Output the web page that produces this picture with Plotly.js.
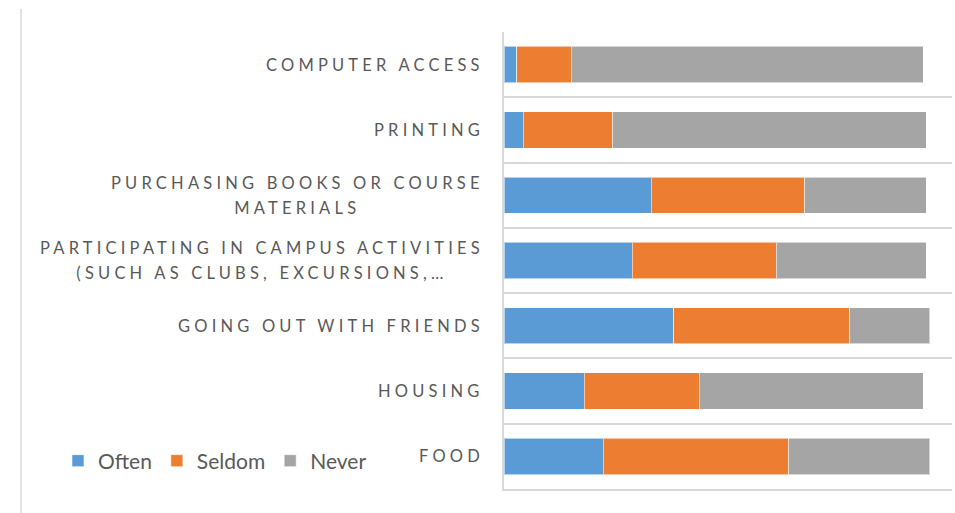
<!DOCTYPE html>
<html>
<head>
<meta charset="utf-8">
<script src="https://cdn.plot.ly/plotly-3.0.1.min.js"></script>
<style>
  html, body { margin: 0; padding: 0; background: #fff; }
  #chart { width: 955px; height: 513px; }
  .annotation-text { letter-spacing: 4.2px; }
</style>
</head>
<body>
<div id="chart"></div>
<script>
// Categories, top to bottom
const categories = [
  "Computer access",
  "Printing",
  "Purchasing books or course materials",
  "Participating in campus activities",
  "Going out with friends",
  "Housing",
  "Food"
];
// Displayed category labels (as in the chart, truncated with …)
const categoryLabels = [
  ["COMPUTER ACCESS"],
  ["PRINTING"],
  ["PURCHASING BOOKS OR COURSE", "MATERIALS"],
  ["PARTICIPATING IN CAMPUS ACTIVITIES", "(SUCH AS CLUBS, EXCURSIONS,…"],
  ["GOING OUT WITH FRIENDS"],
  ["HOUSING"],
  ["FOOD"]
];
const seriesNames = ["Often", "Seldom", "Never"];
const often  = [4, 6, 46, 40, 53, 25, 31];
const seldom = [17, 28, 48, 45, 55, 36, 58];
const never  = [110, 98, 38, 47, 25, 70, 44];
const seriesColors = ["#5B9BD5", "#ED7D31", "#A5A5A5"];

const values = [often, seldom, never];
const traces = seriesNames.map((name, i) => ({
  type: "bar",
  orientation: "h",
  name: name,
  y: categories,
  x: values[i],
  marker: { color: seriesColors[i], line: { color: "rgba(255,255,255,0.55)", width: 1 } },
  hoverinfo: "x+name"
}));

const L = 503.5, R = 3, T = 32, B = 24;
const plotW = 955 - L - R, plotH = 513 - T - B;
const labelSize = 16.5;   // visible glyph size
const lineBase = 19.2;    // base size -> line spacing 1.3 * 19.2 ≈ 25px
const spacing = 4.2;

const annotations = categories.map((c, i) => ({
  xref: "paper", yref: "y",
  x: (481 + spacing - L) / plotW,
  y: c,
  xanchor: "right", yanchor: "middle",
  align: "center",
  showarrow: false,
  text: categoryLabels[i].map(s => '<span style="font-size:' + labelSize + 'px">' + s + '</span>').join("<br>"),
  font: { family: "Lato, 'Open Sans', sans-serif", size: lineBase, color: "#595959" }
}));

const layout = {
  width: 955, height: 513,
  margin: { l: L, r: R, t: T, b: B, pad: 0 },
  paper_bgcolor: "#ffffff",
  plot_bgcolor: "#ffffff",
  barmode: "stack",
  bargap: 0.444,
  font: { family: "Lato, 'Open Sans', sans-serif", color: "#595959" },
  xaxis: {
    range: [0, 140],
    showgrid: false, zeroline: false,
    showticklabels: false, ticks: "",
    showline: true, linecolor: "#D9D9D9", linewidth: 1.5
  },
  yaxis: {
    type: "category",
    autorange: "reversed",
    showticklabels: false,
    tickson: "boundaries", ticks: "",
    showgrid: true, gridcolor: "#D9D9D9", gridwidth: 1.5,
    showline: true, linecolor: "#D9D9D9", linewidth: 1.5,
    zeroline: false
  },
  showlegend: true,
  legend: {
    orientation: "h",
    x: (57 - L) / plotW, xanchor: "left",
    y: (513 - B - 461) / plotH, yanchor: "middle",
    font: { family: "Lato, 'Open Sans', sans-serif", size: 21, color: "#595959" },
    bgcolor: "rgba(0,0,0,0)",
    traceorder: "normal",
    itemclick: false, itemdoubleclick: false
  },
  annotations: annotations,
  shapes: [{
    type: "line", xref: "paper", yref: "paper",
    x0: (20 - L) / plotW, x1: (20 - L) / plotW,
    y0: (513 - B - 513) / plotH, y1: (513 - B - 9) / plotH,
    line: { color: "#D9D9D9", width: 1.5 }
  }]
};

Plotly.newPlot("chart", traces, layout, { displayModeBar: false, responsive: false });
</script>
</body>
</html>
